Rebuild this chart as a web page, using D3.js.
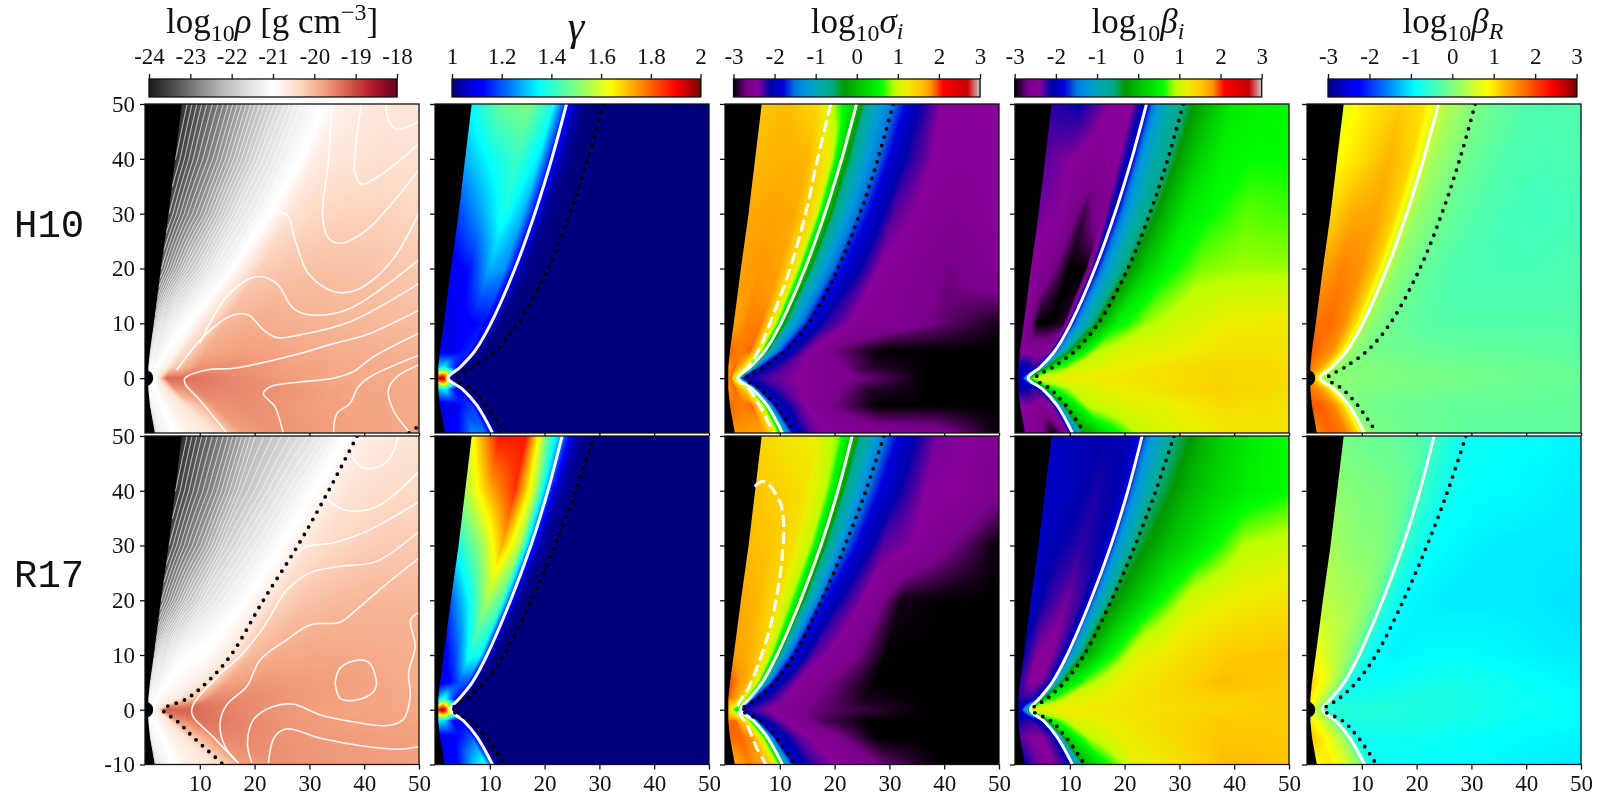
<!DOCTYPE html>
<html>
<head>
<meta charset="utf-8">
<script src="https://cdn.jsdelivr.net/npm/d3@7"></script>
<style>
  body { margin: 0; background: #fff; }
  #chart { position: relative; width: 1605px; height: 796px; overflow: hidden; }
  #chart canvas, #chart svg { position: absolute; }
  text { font-family: "Liberation Serif", serif; fill: #111; }
  .tick text { font-size: 23px; }
</style>
</head>
<body>
<div id="chart"></div>
<script>
// grid the fields were read on: rows in y, columns between the guide lines
// (0 = funnel wall, 1 = inner guide, 2 = outer guide, 3 = right edge)
var rows = [50, 40, 30, 20, 10, 5, 2, 0, -2, -5, -10];
var columns = [0, .3, .6, .85, 1, 1.3, 1.6, 2, 2.1, 2.25, 2.45, 2.7, 3];

var wallX = [6.7, 5.5, 4.3, 2.9, 1.6, .9, .6, .6, .6, .9, 1.8];
var whiteH10 = [24, 21.3, 18.2, 14.6, 10.2, 7.3, 4.6, 2.4, 5, 7.7, 10.5];
var dotH10 = [30.7, 27.9, 24.6, 20.6, 15.2, 11, 6.9, 3.8, 6.5, 9.3, 12.7];
var whiteR17 = [23.2, 20.6, 17.5, 13.8, 9.5, 6.8, 4.4, 2.8, 5.2, 7.7, 10.5];
var dotR17 = [29, 25.7, 21.9, 17.6, 12.6, 9, 5.8, 3.1, 6.5, 9.3, 12.7];
var fanX = [20, 17.5, 14.5, 11, 6.5, 4, 2.5, 1.6, 2.5, 4.5, 7.5];
var edgeH10 = [33, 29, 24, 17.7, 10.5, 7, 5, 3.8, 5.5, 8.5, 14];
var edgeR17 = [38.7, 33.5, 27.9, 21.6, 15.7, 11.3, 7.6, 3.3, 5.8, 8.8, 14.3];

var rhoH10 = [
  [-23.7,-23.25,-22.85,-22.45,-22.2,-21.75,-21.35,-21,-20.85,-20.75,-20.65,-20.6,-20.6],
  [-23.6,-23.15,-22.75,-22.35,-22.1,-21.65,-21.3,-20.95,-20.7,-20.6,-20.55,-20.5,-20.52],
  [-23.4,-22.95,-22.55,-22.15,-21.9,-21.5,-21.25,-20.85,-20.55,-20.4,-20.32,-20.3,-20.35],
  [-23.1,-22.6,-22.1,-21.8,-21.6,-21.3,-21.15,-20.75,-20.25,-20.15,-20.1,-20.12,-20.2],
  [-22.5,-21.8,-21.4,-21.2,-21.1,-21,-20.9,-20.6,-20,-19.9,-19.95,-20,-20.05],
  [-22,-21.5,-21.25,-21.1,-21,-20.9,-20.85,-20.5,-19.85,-19.75,-19.82,-19.9,-19.95],
  [-21.8,-21.3,-21.1,-21,-20.9,-20.8,-20.7,-20.3,-19.65,-19.6,-19.75,-19.85,-19.9],
  [-21,-21,-21,-21,-20.9,-20.7,-20.2,-19.3,-19.35,-19.55,-19.7,-19.85,-19.9],
  [-21.7,-21.2,-21,-20.9,-20.8,-20.7,-20.5,-19.7,-19.5,-19.55,-19.65,-19.8,-19.85],
  [-21.8,-21.2,-21,-20.9,-20.8,-20.7,-20.6,-20.3,-19.65,-19.6,-19.7,-19.8,-19.85],
  [-21.8,-21.3,-21,-20.9,-20.8,-20.7,-20.65,-20.4,-19.75,-19.65,-19.7,-19.8,-19.85]
];
var rhoR17 = [
  [-23.7,-23.25,-22.85,-22.45,-22.2,-21.85,-21.5,-20.85,-20.75,-20.7,-20.65,-20.6,-20.55],
  [-23.6,-23.15,-22.75,-22.35,-22.1,-21.7,-21.3,-20.8,-20.65,-20.55,-20.48,-20.42,-20.4],
  [-23.4,-22.95,-22.55,-22.15,-21.9,-21.5,-21.2,-20.75,-20.55,-20.4,-20.3,-20.22,-20.2],
  [-23.1,-22.6,-22.1,-21.8,-21.6,-21.3,-21.1,-20.7,-20.35,-20.15,-20.05,-20,-20],
  [-22.5,-21.8,-21.4,-21.2,-21.1,-21,-20.9,-20.6,-20.05,-19.88,-19.82,-19.85,-19.9],
  [-22,-21.5,-21.25,-21.1,-21,-20.9,-20.8,-20.5,-19.8,-19.67,-19.72,-19.77,-19.9],
  [-21.8,-21.3,-21.1,-21,-20.9,-20.8,-20.7,-20.3,-19.55,-19.57,-19.67,-19.77,-19.85],
  [-21,-21,-21,-21,-20.9,-20.7,-20.4,-19.2,-19.25,-19.5,-19.67,-19.8,-19.85],
  [-21.7,-21.2,-21,-20.9,-20.8,-20.7,-20.5,-19.7,-19.35,-19.5,-19.67,-19.77,-19.8],
  [-21.8,-21.2,-21,-20.9,-20.8,-20.7,-20.6,-20.2,-19.55,-19.57,-19.67,-19.72,-19.75],
  [-21.8,-21.3,-21,-20.9,-20.8,-20.7,-20.65,-20.4,-19.75,-19.62,-19.67,-19.72,-19.75]
];
var gammaH10 = [
  [1.36,1.47,1.5,1.38,1.15,1.03,1,1,1,1,1,1,1],
  [1.28,1.36,1.42,1.33,1.12,1.03,1,1,1,1,1,1,1],
  [1.18,1.27,1.38,1.28,1.12,1.02,1,1,1,1,1,1,1],
  [1.1,1.14,1.28,1.25,1.1,1.02,1,1,1,1,1,1,1],
  [1.08,1.1,1.12,1.14,1.08,1.01,1,1,1,1,1,1,1],
  [1.1,1.08,1.13,1.16,1.08,1.01,1,1,1,1,1,1,1],
  [1.3,1.35,1.2,1.12,1.06,1,1,1,1,1,1,1,1],
  [1.9,2,1.95,1.5,1.06,1,1,1,1,1,1,1,1],
  [1.3,1.35,1.15,1.1,1.06,1,1,1,1,1,1,1,1],
  [1.08,1.08,1.14,1.18,1.1,1.01,1,1,1,1,1,1,1],
  [1.1,1.13,1.25,1.22,1.1,1.02,1,1,1,1,1,1,1]
];
var gammaR17 = [
  [1.62,1.88,1.88,1.45,1.25,1.08,1.02,1,1,1,1,1,1],
  [1.55,1.72,1.85,1.55,1.22,1.06,1.02,1,1,1,1,1,1],
  [1.38,1.52,1.72,1.55,1.2,1.05,1.01,1,1,1,1,1,1],
  [1.2,1.35,1.55,1.45,1.15,1.04,1,1,1,1,1,1,1],
  [1.1,1.2,1.38,1.35,1.12,1.03,1,1,1,1,1,1,1],
  [1.1,1.12,1.2,1.2,1.1,1.02,1,1,1,1,1,1,1],
  [1.3,1.4,1.2,1.12,1.08,1,1,1,1,1,1,1,1],
  [1.85,2,1.9,1.6,1.2,1,1,1,1,1,1,1,1],
  [1.35,1.3,1.1,1.1,1.08,1,1,1,1,1,1,1,1],
  [1.08,1.1,1.15,1.2,1.1,1.01,1,1,1,1,1,1,1],
  [1.1,1.14,1.3,1.38,1.15,1.02,1,1,1,1,1,1,1]
];
var sigmaH10 = [
  [1.55,1.6,1.4,.6,.1,-.8,-1.1,-1.5,-1.75,-2.1,-2.4,-2.4,-2.4],
  [1.6,1.65,1.65,1.2,.1,-.7,-1.1,-1.5,-1.85,-2.15,-2.4,-2.45,-2.4],
  [1.7,1.75,1.7,1.3,.2,-.7,-1.1,-1.6,-1.9,-2.3,-2.45,-2.55,-2.4],
  [1.75,1.8,1.75,1.2,.2,-.8,-1.2,-1.7,-2,-2.4,-2.5,-2.72,-2.5],
  [1.75,1.85,1.85,1.2,.2,-.9,-1.3,-1.8,-2.2,-2.45,-2.55,-2.75,-2.95],
  [1.9,1.85,1.9,1.2,.2,-1,-1.4,-1.9,-2.35,-2.75,-3,-3,-3],
  [1.8,1.9,1.6,1,.2,-1,-1.6,-2,-2.3,-2.5,-2.9,-3,-3],
  [1.8,1.9,1,.3,.5,-1.2,-1.9,-2.1,-2.3,-2.45,-2.7,-3,-3],
  [1.8,1.9,1.6,1,.2,-1,-1.6,-2,-2.3,-2.5,-2.9,-3,-3],
  [1.9,1.85,1.9,1.2,.2,-1.1,-1.5,-1.9,-2.3,-2.7,-3,-3,-3],
  [1.8,1.8,1.75,1.2,.1,-1.1,-1.5,-2,-2.35,-2.5,-2.55,-2.6,-3]
];
var sigmaR17 = [
  [1.4,1.25,1.2,.8,.15,-.7,-1,-1.45,-1.75,-2.05,-2.35,-2.4,-2.55],
  [1.55,1.45,1.3,.9,.15,-.7,-1,-1.45,-1.8,-2.1,-2.4,-2.4,-2.65],
  [1.6,1.55,1.35,.9,.15,-.7,-1,-1.5,-1.9,-2.3,-2.4,-2.7,-3],
  [1.7,1.6,1.35,.8,.15,-.8,-1.1,-1.7,-2.1,-2.45,-2.95,-3,-3],
  [1.75,1.7,1.5,.9,.2,-1,-1.4,-1.8,-2.3,-2.55,-3,-3,-3],
  [1.95,1.8,1.6,1,.2,-1.1,-1.5,-1.9,-2.4,-2.7,-3,-3,-3],
  [1.9,1.8,1.5,.8,.2,-1.2,-1.7,-2,-2.35,-2.7,-2.95,-3,-3],
  [1.5,1,.5,.5,.4,-1.3,-1.9,-2.1,-2.4,-2.7,-2.85,-3,-3],
  [1.9,1.9,1.5,.8,.2,-1.2,-1.7,-2,-2.4,-2.8,-3,-3,-3],
  [1.9,1.9,1.8,1,.2,-1.1,-1.5,-1.9,-2.3,-2.6,-3,-3,-3],
  [1.7,1.85,1.75,1.2,.1,-1,-1.4,-1.9,-2.25,-2.45,-2.75,-3,-3]
];
var betaIH10 = [
  [-2.2,-2.1,-2.4,-2.4,-1.9,-1.2,-.9,-.6,-.3,0,.4,.5,.55],
  [-2.3,-2.4,-2.5,-2.4,-1.9,-1.2,-.9,-.6,-.2,.2,.5,.6,.6],
  [-2.35,-2.4,-2.85,-2.5,-1.9,-1.3,-.9,-.5,-.1,.4,.6,.75,.7],
  [-2.4,-2.6,-3,-3,-1.9,-1.3,-.9,-.4,.1,.55,.8,.85,.85],
  [-2.4,-3,-3,-2.9,-1.9,-1.2,-.9,-.2,.5,.85,1.05,1.2,1.25],
  [-2.4,-2.5,-2.5,-2.4,-1.9,-1.1,-.6,.1,.9,1.1,1.15,1.3,1.3],
  [-2.1,-2,-2.2,-2.2,-1.8,-.7,-.1,.5,1,1.15,1.3,1.4,1.35],
  [-2.2,-2,-1.5,-.5,0,.3,.8,1,1.15,1.25,1.3,1.4,1.35],
  [-2.1,-2.1,-2.2,-2.2,-1.8,-.7,-.1,.5,1,1.15,1.3,1.45,1.35],
  [-2.4,-2.4,-2.5,-2.4,-1.9,-1.1,-.6,.1,.95,1.1,1.15,1.35,1.3],
  [-2.35,-2.6,-3,-2.6,-1.9,-1.3,-.8,-.2,.3,.9,1.1,1.25,1.3]
];
var betaIR17 = [
  [-1.95,-2.05,-2.1,-2.05,-1.8,-1.2,-1,-.6,-.4,-.1,.2,.45,.6],
  [-1.95,-2,-2.15,-2.1,-1.8,-1.2,-1,-.6,-.35,-.05,.25,.45,.6],
  [-1.95,-2.1,-2.2,-2.1,-1.85,-1.2,-1,-.5,-.25,.1,.45,.9,1],
  [-1.95,-2.2,-2.35,-2.2,-1.85,-1.2,-.9,-.4,0,.5,1.05,1.2,1.3],
  [-2.1,-2.4,-2.45,-2.2,-1.85,-1.1,-.8,-.2,.4,1.1,1.3,1.5,1.55],
  [-2.2,-2.4,-2.4,-2.2,-1.8,-1,-.6,.2,.8,1.2,1.35,1.6,1.5],
  [-2.2,-2.2,-2.2,-2,-1.7,-.7,-.2,.5,1.1,1.2,1.35,1.45,1.5],
  [-2.1,-1.8,-1,0,.5,.7,.9,1.1,1.2,1.25,1.3,1.4,1.5],
  [-2.1,-2.2,-2.2,-2,-1.7,-.7,-.2,.5,1.1,1.2,1.35,1.5,1.5],
  [-2.3,-2.4,-2.4,-2.2,-1.8,-1,-.6,.2,.9,1.2,1.35,1.55,1.5],
  [-2.1,-2.35,-2.4,-2.2,-1.85,-1.2,-.8,-.1,.5,1.15,1.3,1.6,1.55]
];
var betaRH10 = [
  [.7,1,1.15,1,.55,.3,.2,0,-.1,-.2,-.3,-.35,-.3],
  [.85,1.05,1.3,1.1,.5,.2,.1,-.05,-.15,-.25,-.35,-.4,-.35],
  [1.1,1.35,1.4,1.1,.45,.15,.05,-.1,-.2,-.3,-.4,-.45,-.4],
  [1.4,1.6,1.5,1.1,.4,.1,0,-.15,-.25,-.35,-.4,-.4,-.35],
  [1.7,1.75,1.55,1.05,.4,.1,0,-.1,-.2,-.3,-.3,-.3,-.3],
  [1.85,1.65,1.5,1,.4,.1,.05,-.05,-.1,-.15,-.2,-.2,-.25],
  [1.7,1.5,1.3,.9,.5,.2,.1,.05,0,-.05,-.1,-.15,-.2],
  [1.5,1.2,.9,.6,.5,.3,.2,.1,.05,0,-.05,-.1,-.15],
  [1.7,1.55,1.3,.9,.5,.2,.1,.05,0,-.05,-.1,-.15,-.2],
  [1.9,1.8,1.55,1.05,.4,.15,.05,-.05,-.1,-.15,-.2,-.2,-.2],
  [1.55,1.8,1.65,1.1,.4,.15,.05,-.05,-.1,-.15,-.2,-.2,-.2]
];
var betaRR17 = [
  [-.05,-.15,-.2,-.3,-.45,-.6,-.7,-.8,-.85,-.85,-.9,-.9,-.95],
  [.1,0,-.05,-.2,-.45,-.6,-.7,-.8,-.85,-.9,-.9,-.95,-1],
  [.25,.1,.05,-.1,-.45,-.65,-.75,-.85,-.9,-.95,-1,-1,-1],
  [.4,.3,.2,0,-.45,-.7,-.8,-.9,-.95,-1,-1,-1,-1.05],
  [.8,.55,.3,0,-.4,-.7,-.8,-.9,-.95,-.9,-.9,-.95,-1],
  [1.1,.85,.45,.1,-.35,-.65,-.75,-.85,-.85,-.8,-.75,-.85,-.95],
  [1,.7,.4,.1,-.3,-.55,-.65,-.75,-.75,-.7,-.7,-.8,-.9],
  [.8,.5,.3,.1,-.2,-.4,-.5,-.6,-.65,-.65,-.7,-.8,-.9],
  [1,.7,.4,.1,-.3,-.55,-.65,-.7,-.7,-.7,-.75,-.85,-.9],
  [1.2,.9,.55,.2,-.3,-.6,-.7,-.8,-.8,-.8,-.85,-.9,-.95],
  [.8,.95,.6,.2,-.35,-.65,-.75,-.85,-.85,-.9,-.9,-.95,-1]
];

// dashed sigma = 1 curves and the white contours of the density panels, [x, y]
var dashH10 = [[19.3,50],[16.9,40],[14.7,30],[11.9,20],[8.2,10],[6.1,5],[4.2,2],[2.3,0],[4.4,-2],[6.3,-5],[8.9,-10]];
var dashR17 = [[5.4,40.8],[7.2,41.7],[10,38],[10.7,34],[10.3,26.7],[8.9,17.9],[7.2,11.5],[4.4,4.2],[2.3,.3],[4,-2.7],[5.8,-7],[7.5,-10]];
var cornerDotsH10 = [[48.2,-10],[50,-8.7]];
var contoursH10 = [
  [[44,50],[44.4,47.1],[45.9,45.4],[50,46.8]],
  [[39.5,50],[38.6,43.5],[38.3,37.4],[39.5,35.4],[43.5,37.4],[50,42.8]],
  [[34,50],[33.5,39.8],[32.4,29.5],[33.5,25.5],[35.6,24.6],[40.4,27],[50,38]],
  [[20,24.5],[21.5,27],[23.7,30.1],[25.9,29.8],[27.4,25.2],[29.8,19.1],[34.4,15.8],[38.6,16.1],[44.7,21],[50,30.1]],
  [[10,6.3],[14.9,14.9],[20.4,18.5],[24,17.3],[27.1,12.7],[30.7,11.5],[37.4,12.7],[50,21.6]],
  [[5.8,1.5],[11.3,8.2],[16.1,11.5],[18.9,11.5],[21.6,8.8],[24,7.4],[28.3,7.9],[37.4,10.3],[50,17.3]],
  [[14.9,-10],[10,-4],[7.3,-1],[7.3,0],[11.3,1.5],[16.1,1.8],[22.2,3],[28.3,4.5],[34.4,6.3],[40.4,7.9],[50,12.4]],
  [[25.2,-10],[23.7,-5.2],[21.6,-2.8],[22.8,-1.6],[28.3,-.7],[34.4,0],[38,1.2],[41.7,3.9],[50,8.2]],
  [[34.4,-10],[35,-6.5],[37.4,-4.6],[38.9,-1.6],[41,.2],[50,4.2]],
  [[48.4,-10],[45.3,-5.8],[44.4,-2.2],[45.9,.2],[50,2.4]]
];
var contoursR17 = [
  [[46.2,50],[44.7,46],[42.3,44.3],[39.8,44.2],[38,46]],
  [[50,43.5],[42.3,37.1],[36.8,36.4],[34.4,37.5],[32.8,38.7],[30.7,38.4]],
  [[50,38],[40.4,32.6],[34.4,30.5],[29.5,29.8],[27.7,28.6]],
  [[17,-9.7],[12.5,-5],[8.5,-.3],[13,5.8],[17.3,9.7],[21.6,15],[25.9,21.9],[30.1,25],[35.6,26.2],[42.3,27.1],[50,32.6]],
  [[17,-9.7],[14.6,-6.7],[13.7,-2.4],[14.9,.9],[18.6,4.3],[21,9.1],[25.9,12.8],[30.1,15.5],[35.6,16],[38.6,18.3],[43.5,22.5],[50,27.7]],
  [[34.7,4.9],[35.6,7.6],[38.9,9.1],[41,8.5],[42.2,4.3],[41,2.7],[38,1.7],[35.6,2.1],[34.7,4.9]],
  [[50,17.8],[48.5,16.4],[49.3,11.6],[48.1,6.7],[48.4,2.4],[47.1,-1.8],[44.1,-2.9],[37.4,-2.1],[31.9,-.9],[27.1,1],[23.4,.6],[19.8,-1.8],[18.7,-6.1],[19.5,-9.7]],
  [[22.5,-9.7],[23.7,-4.9],[25.9,-3.5],[32,-5.2],[40.4,-6.7],[46.5,-7.2],[50,-6.7]]
];

// colour maps
var rdgyColors = ["#1a1a1a","#4d4d4d","#878787","#bababa","#e0e0e0","#ffffff","#fddbc7","#f4a582","#d6604d","#b2182b","#67001f"];
var jetColors = ["#00007f","#0000ff","#0000ff","#00ffff","#7fff7f","#ffff00","#ff0000","#7f0000"];
var jetStops = [0, .11, .125, .35, .5, .64, .9, 1];
var spectralColors = ["#000000","#770088","#880099","#0000aa","#0000dd","#0077dd","#0099dd","#00aaaa","#00aa88","#009900","#00bb00","#00dd00","#00ff00","#bbff00","#eeee00","#ffcc00","#ff9900","#ff0000","#dd0000","#cc0000","#cccccc"];

var rhoTicks = [-24, -23, -22, -21, -20, -19, -18];
var gammaTicks = [1, 1.2, 1.4, 1.6, 1.8, 2];
var logTicks = [-3, -2, -1, 0, 1, 2, 3];
var xTicks = [10, 20, 30, 40, 50];
var yTicks = [50, 40, 30, 20, 10, 0, -10];

function evenly(colors, lo, hi) {
  return d3.scaleLinear()
    .domain(colors.map(function(c, i) { return lo + (hi - lo) * i / (colors.length - 1); }))
    .range(colors).clamp(true);
}
var rhoColor = evenly(rdgyColors, -24, -18);
var spectral = evenly(spectralColors, -3, 3);
var gammaColor = d3.scaleLinear().domain(jetStops.map(function(t) { return 1 + t; })).range(jetColors).clamp(true);
var betaRColor = d3.scaleLinear().domain(jetStops.map(function(t) { return -3 + 6 * t; })).range(jetColors).clamp(true);

var panelLeft = [145, 435, 725, 1015, 1307];
var panelW = 274;
var rowTop = [104, 436];
var rowH = [329, 328.5];
var barX = [[149, 397], [452, 700.5], [733.5, 980], [1014.7, 1261.7], [1328, 1576.6]];

var columnsSpec = [
  {color: rhoColor, ticks: rhoTicks, fields: [rhoH10, rhoR17], inner: [fanX, fanX], outer: [edgeH10, edgeR17], disc: true},
  {color: gammaColor, ticks: gammaTicks, fields: [gammaH10, gammaR17], lines: true},
  {color: spectral, ticks: logTicks, fields: [sigmaH10, sigmaR17], lines: true, dashed: [dashH10, dashR17]},
  {color: spectral, ticks: logTicks, fields: [betaIH10, betaIR17], lines: true},
  {color: betaRColor, ticks: logTicks, fields: [betaRH10, betaRR17], lines: true, disc: true}
];

var chart = d3.select("#chart");
var svg = chart.append("svg").attr("width", 1605).attr("height", 796).style("z-index", 2);
var defs = svg.append("defs");

// field value along one horizontal line of the panel
function rowSampler(field, inner, outer, y) {
  var cOf = d3.scaleLinear()
    .domain([d3.scaleLinear(rows, wallX)(y), d3.scaleLinear(rows, inner)(y), d3.scaleLinear(rows, outer)(y), 50])
    .range([0, 1, 2, 3]).clamp(true);
  var line = columns.map(function(c, i) {
    return d3.scaleLinear(rows, field.map(function(r) { return r[i]; }))(y);
  });
  var val = d3.scaleLinear(columns, line);
  return function(x) { return val(cOf(x)); };
}

function paintField(left, top, h, xScale, yScale, field, inner, outer, color) {
  var canvas = chart.append("canvas")
    .attr("width", panelW).attr("height", Math.ceil(h))
    .style("left", left + "px").style("top", top + "px");
  var ctx = canvas.node().getContext("2d");
  var img = ctx.createImageData(panelW, Math.ceil(h));
  var dom = color.domain(), lo = dom[0], hi = dom[dom.length - 1];
  var lut = d3.range(1024).map(function(i) { return d3.rgb(color(lo + (hi - lo) * i / 1023)); });
  var p = 0;
  for (var py = 0; py < Math.ceil(h); py++) {
    var sample = rowSampler(field, inner, outer, yScale.invert(top + py + .5));
    for (var px = 0; px < panelW; px++) {
      var v = sample(xScale.invert(left + px + .5));
      var c = lut[Math.max(0, Math.min(1023, Math.round((v - lo) / (hi - lo) * 1023)))];
      img.data[p++] = c.r; img.data[p++] = c.g; img.data[p++] = c.b; img.data[p++] = 255;
    }
  }
  ctx.putImageData(img, 0, 0);
}

function addAxes(g, j, r, xScale, yScale) {
  var yAxis = d3.axisLeft(yScale)
    .tickValues(r === 0 ? yTicks.slice(0, 6) : yTicks)
    .tickSize(5).tickPadding(5)
    .tickFormat(function(d) { return j === 0 ? String(d) : ""; });
  g.append("g").attr("transform", "translate(" + xScale.range()[0] + ",0)")
    .call(yAxis).call(function(a) { a.select(".domain").remove(); });

  var xAxis = d3.axisBottom(xScale)
    .tickValues(xTicks)
    .tickSize(r === 0 ? 3 : 5).tickPadding(5)
    .tickFormat(function(d) { return r === 1 ? String(d) : ""; });
  g.append("g").attr("transform", "translate(0," + yScale.range()[1] + ")")
    .call(xAxis).call(function(a) { a.select(".domain").remove(); });

  g.selectAll(".tick line").attr("stroke", "#111").attr("stroke-width", 1.3);
}

var lineOf = function(xScale, yScale) {
  return d3.line()
    .x(function(d) { return xScale(d[0]); })
    .y(function(d) { return yScale(d[1]); })
    .curve(d3.curveCatmullRom);
};

columnsSpec.forEach(function(spec, j) {
  var left = panelLeft[j];
  [0, 1].forEach(function(r) {
    var top = rowTop[r], h = rowH[r];
    var x = d3.scaleLinear().domain([0, 50]).range([left, left + panelW]);
    var y = d3.scaleLinear().domain([50, -10]).range([top, top + h]);
    var white = r === 0 ? whiteH10 : whiteR17;
    var dots = r === 0 ? dotH10 : dotR17;
    var inner = spec.inner ? spec.inner[r] : white;
    var outer = spec.outer ? spec.outer[r] : dots;

    paintField(left, top, h, x, y, spec.fields[r], inner, outer, spec.color);

    var clipId = "clip" + j + r;
    defs.append("clipPath").attr("id", clipId).append("rect")
      .attr("x", left).attr("y", top).attr("width", panelW).attr("height", h);
    var g = svg.append("g");
    var inside = g.append("g").attr("clip-path", "url(#" + clipId + ")");
    var path = lineOf(x, y);

    if (j === 0) {
      // fan of thin contours in the low density funnel
      var pad = 4, step = 1;
      var nx = panelW + 2 * pad, ny = Math.ceil(h) + 2 * pad, vals = [];
      for (var i = 0; i < ny; i++) {
        var s = rowSampler(spec.fields[r], inner, outer, y.invert(Math.min(top + h, Math.max(top, top - pad + i * step))));
        for (var k = 0; k < nx; k++) vals.push(s(x.invert(left - pad + k * step)));
      }
      var cont = d3.contours().size([nx, ny]).smooth(true).thresholds(d3.range(-23.9, -21.05, .1))(vals);
      inside.append("g").attr("transform", "translate(" + (left - pad) + "," + (top - pad) + ")")
        .selectAll("path").data(cont).enter().append("path")
        .attr("d", d3.geoPath())
        .attr("fill", "none").attr("stroke", "#fff").attr("stroke-width", .8);

      inside.selectAll(".rhoLine").data(r === 0 ? contoursH10 : contoursR17).enter().append("path")
        .attr("class", "rhoLine").attr("d", path)
        .attr("fill", "none").attr("stroke", "#fff").attr("stroke-opacity", .9).attr("stroke-width", 1.6);
    }

    // funnel wall
    inside.append("path")
      .attr("d", d3.area()
        .x0(x(0)).x1(function(d) { return x(d[0]); })
        .y(function(d) { return y(d[1]); })(d3.zip(wallX, rows)))
      .attr("fill", "#000");
    if (spec.disc) {
      inside.append("circle").attr("cx", x(0)).attr("cy", y(0))
        .attr("r", x(1.5) - x(0)).attr("fill", "#000");
    }

    if (spec.dashed) {
      inside.append("path").attr("d", path(spec.dashed[r]))
        .attr("fill", "none").attr("stroke", "#fff").attr("stroke-width", 3).attr("stroke-dasharray", "12 5");
    }
    if (spec.lines) {
      inside.append("path").attr("d", path(d3.zip(white, rows)))
        .attr("fill", "none").attr("stroke", "#fff").attr("stroke-width", 3);
    }
    var dotted = spec.lines ? d3.zip(dots, rows)
      : (r === 1 ? d3.zip(edgeR17, rows) : cornerDotsH10);
    inside.append("path").attr("d", path(dotted))
      .attr("fill", "none").attr("stroke", "#000").attr("stroke-width", 3.8)
      .attr("stroke-linecap", "round").attr("stroke-dasharray", "0 8.6");

    g.append("rect")
      .attr("x", left).attr("y", top).attr("width", panelW).attr("height", h)
      .attr("fill", "none").attr("stroke", "#111").attr("stroke-width", 1.3);
    addAxes(g, j, r, x, y);
  });

  // colour bar
  var bar = svg.append("g");
  var dom = spec.color.domain();
  var bx = d3.scaleLinear().domain([dom[0], dom[dom.length - 1]]).range(barX[j]);
  var pts = d3.range(barX[j][0], barX[j][1], 1);
  bar.selectAll("rect").data(pts).enter().append("rect")
    .attr("x", function(d) { return d; }).attr("y", 79)
    .attr("width", 1.5).attr("height", 18)
    .attr("fill", function(d) { return spec.color(bx.invert(d + .5)); });
  bar.append("rect").attr("x", barX[j][0]).attr("y", 79)
    .attr("width", barX[j][1] - barX[j][0]).attr("height", 18)
    .attr("fill", "none").attr("stroke", "#111").attr("stroke-width", 1.3);
  bar.append("g").attr("transform", "translate(0,79)")
    .call(d3.axisTop(bx).tickValues(spec.ticks).tickSize(5).tickPadding(10).tickFormat(function(d) { return String(d); }))
    .call(function(a) { a.select(".domain").remove(); })
    .selectAll(".tick line").attr("stroke", "#111").attr("stroke-width", 1.3);
});

// titles
var titleSpec = [
  {x: 272, base: "ρ", rest: true},
  {x: 576, gamma: true},
  {x: 857, base: "σ", sub: "i"},
  {x: 1138, base: "β", sub: "i"},
  {x: 1453, base: "β", sub: "R"}
];
titleSpec.forEach(function(t) {
  var el = svg.append("text").attr("x", t.x).attr("text-anchor", "middle").attr("font-size", 35);
  if (t.gamma) {
    el.attr("y", 40).attr("font-style", "italic").attr("font-size", 42).text("γ");
    return;
  }
  el.attr("y", 33);
  el.append("tspan").text("log");
  el.append("tspan").attr("font-size", 24).attr("dy", 8).text("10");
  el.append("tspan").attr("dy", -8).attr("font-style", "italic").text(t.base);
  if (t.sub) {
    el.append("tspan").attr("font-size", 24).attr("dy", 6).attr("font-style", "italic").text(t.sub);
  }
  if (t.rest) {
    el.append("tspan").text(" [g cm");
    el.append("tspan").attr("font-size", 24).attr("dy", -13).text("−3");
    el.append("tspan").attr("dy", 13).text("]");
  }
});

// model names
[["H10", 237], ["R17", 587]].forEach(function(d) {
  svg.append("text").attr("x", 14).attr("y", d[1])
    .style("font-family", "'Liberation Mono', monospace").attr("font-size", 39).text(d[0]);
});
</script>
</body>
</html>
